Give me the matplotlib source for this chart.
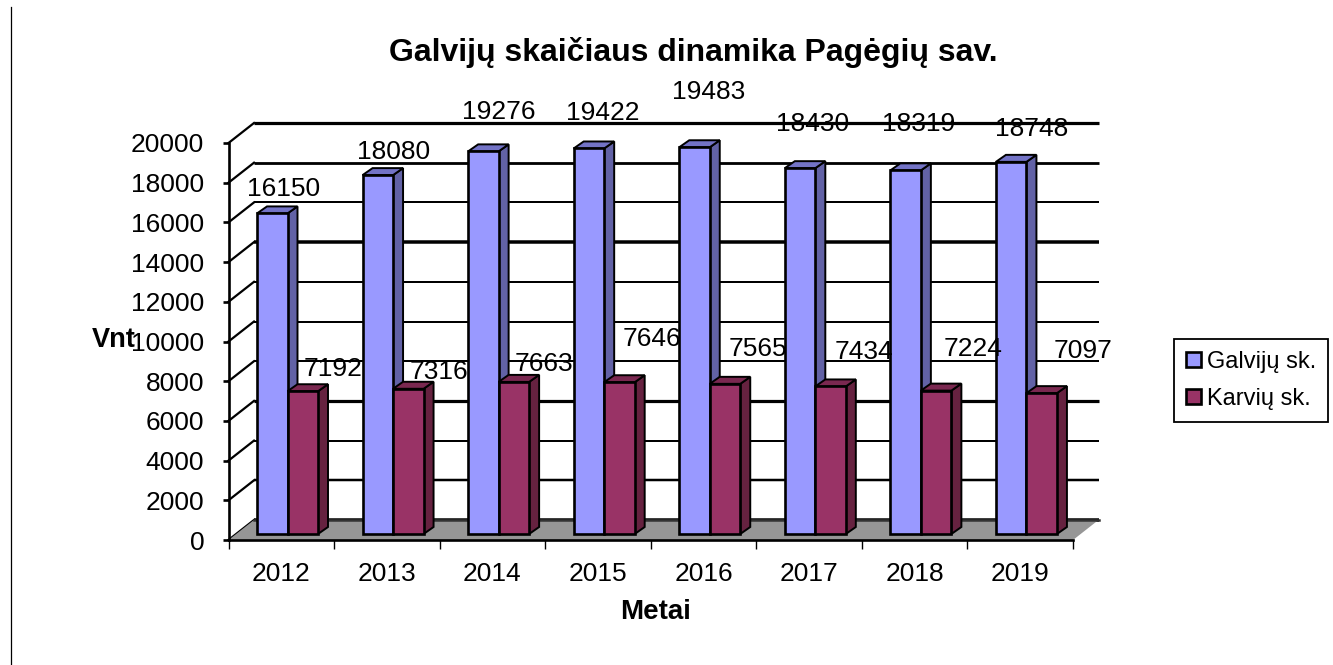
import matplotlib
matplotlib.use("Agg")
import matplotlib.pyplot as plt
from matplotlib.patches import Polygon

plt.rcParams['font.family'] = ['Liberation Sans', 'DejaVu Sans']

years = ["2012", "2013", "2014", "2015", "2016", "2017", "2018", "2019"]
galviju = [16150, 18080, 19276, 19422, 19483, 18430, 18319, 18748]
karviu = [7192, 7316, 7663, 7646, 7565, 7434, 7224, 7097]
y_ticks = [0, 2000, 4000, 6000, 8000, 10000, 12000, 14000, 16000, 18000, 20000]

# hand moved data labels in the original, pixels away from the bar top
galviju_label_off = [(11, -24), (16, -23), (15, -39), (14, -35), (14, -55), (13, -44), (13, -46), (20, -33)]
karviu_label_off = [(30, -22), (31, -17), (30, -18), (33, -43), (33, -35), (33, -34), (37, -42), (41, -42)]
grid_widths = [3.5, 2.5, 2, 3.2, 2, 2, 2, 3.5, 2, 2.8, 3.2]

# axes box is the front plane of the 3d box, in pixels of the 1333x665 image
W, H = 1333, 665
left, right, top, bottom = 228.5, 1073, 143, 540
px_x = 8 / (right - left)
px_y = 20000 / (bottom - top)


def shifted(x, y, dx, dy):
    return (x + dx * px_x, y - dy * px_y)


fig = plt.figure(figsize=(W / 100, H / 100), dpi=100)
ax = fig.add_axes([left / W, 1 - bottom / H, (right - left) / W, (bottom - top) / H])
ax.set_xlim(0, 8)
ax.set_ylim(0, 20000)
ax.patch.set_visible(False)
for s in ['top', 'right']:
    ax.spines[s].set_visible(False)
for s in ['left', 'bottom']:
    ax.spines[s].set_linewidth(1.9)
    ax.spines[s].set_zorder(5)

# back wall lines and the short diagonals on the left wall
wall_x, wall_y = 25.5, -20
for v, lw in zip(y_ticks, grid_widths):
    x1, y1 = shifted(0, v, wall_x, wall_y)
    x2, y2 = shifted(8, v, wall_x, wall_y)
    ax.plot([x1, x2], [y1, y2], color='black', lw=lw * 0.72, zorder=0.5, clip_on=False, solid_capstyle='butt')
    ax.plot([0, x1], [v, y1], color='black', lw=1.6, zorder=0.5, clip_on=False)

# floor
floor = [(0, 0), shifted(0, 0, wall_x, wall_y), shifted(8, 0, wall_x, wall_y), (8, 0)]
ax.add_patch(Polygon(floor, closed=True, facecolor='#969696', edgecolor='none', zorder=0.6, clip_on=False))
ax.plot([floor[1][0], floor[2][0]], [floor[1][1], floor[2][1]], color='#333333', lw=1.8, zorder=0.6, clip_on=False)

bar_w = 30.5 / (right - left) * 8
start = 20.5 * px_x
base_dx, base_dy = 8, -6
side_dx, side_dy = 10, -7


def draw_bar(x, v, face, side, roof):
    x0, y0 = shifted(x, 0, base_dx, base_dy)
    y1 = y0 + v
    x1 = x0 + bar_w
    sx, sy = side_dx, side_dy
    edge = {'edgecolor': 'black', 'lw': 1.4, 'zorder': 1, 'clip_on': False}
    ax.add_patch(Polygon([(x1, y0), shifted(x1, y0, sx, sy), shifted(x1, y1, sx, sy), (x1, y1)], closed=True, facecolor=side, **edge))
    ax.add_patch(Polygon([(x0, y1), shifted(x0, y1, sx, sy), shifted(x1, y1, sx, sy), (x1, y1)], closed=True, facecolor=roof, **edge))
    return ax.bar(x0, v, width=bar_w, bottom=y0, align='edge', color=face, edgecolor='black', linewidth=1.9, zorder=1, clip_on=False)


for i in range(len(years)):
    b1 = draw_bar(i + start, galviju[i], '#9999FF', '#6262A6', '#7373C6')
    b2 = draw_bar(i + start + bar_w, karviu[i], '#993366', '#662240', '#7A2850')
    if i == 0:
        legend_handles = [b1, b2]

    x0, y0 = shifted(i + start, 0, base_dx, base_dy)
    dx, dy = galviju_label_off[i]
    lx, ly = shifted(x0 + bar_w / 2, y0 + galviju[i], dx, dy)
    ax.text(lx, ly, str(galviju[i]), ha='center', va='center', fontsize=19, color='black', zorder=6)
    dx, dy = karviu_label_off[i]
    lx, ly = shifted(x0 + bar_w * 1.5, y0 + karviu[i], dx, dy)
    ax.text(lx, ly, str(karviu[i]), ha='center', va='center', fontsize=19, color='black', zorder=6)

ax.set_yticks(y_ticks)
ax.tick_params(axis='y', length=4.5, width=1.9, pad=13, labelsize=19)
ax.set_xticks(range(9))
ax.set_xticklabels([])
ax.set_xticks([i + 0.5 for i in range(8)], labels=years, minor=True)
ax.tick_params(axis='x', which='major', length=6.5, width=1, direction='out')
ax.tick_params(axis='x', which='minor', length=0, pad=16, labelsize=19)

fig.text(693 / W, 1 - 53 / H, "Galvijų skaičiaus dinamika Pagėgių sav.", ha='center', va='center', fontsize=23, fontweight='bold')
fig.text(656 / W, 1 - 612 / H, "Metai", ha='center', va='center', fontsize=20, fontweight='bold')
fig.text(92 / W, 1 - 340 / H, "Vnt", ha='left', va='center', fontsize=19.5, fontweight='bold')

leg = fig.legend(legend_handles, ["Galvijų sk.", "Karvių sk."], loc='upper left',
                 bbox_to_anchor=(1174 / W, 1 - 339 / H), bbox_transform=fig.transFigure,
                 fontsize=17, frameon=True, fancybox=False, framealpha=1, edgecolor='black',
                 borderaxespad=0, borderpad=0.5, handlelength=0.63, handleheight=0.6,
                 handletextpad=0.25, labelspacing=0.65)
leg.get_frame().set_linewidth(1.3)
leg._legend_box.align = 'left'

# thin rule at the left edge of the page
fig.add_artist(plt.Line2D([10.5 / W, 10.5 / W], [0, 1 - 7 / H], color='black', lw=0.9))

fig.savefig("out.png", dpi=100)
